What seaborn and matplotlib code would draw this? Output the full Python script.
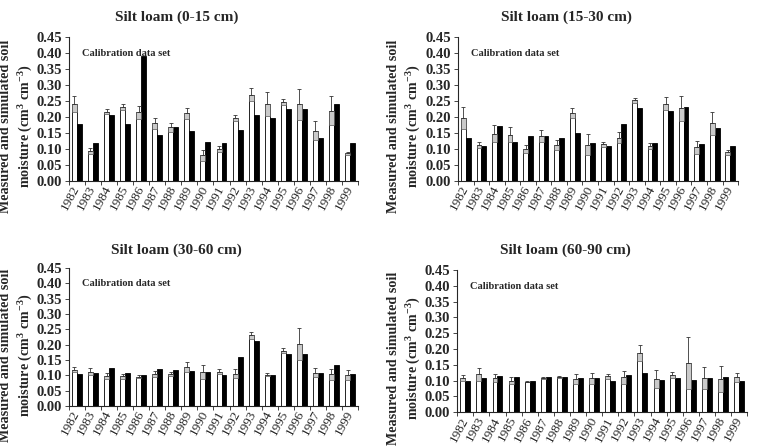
import numpy as np
import pandas as pd
import matplotlib
matplotlib.use('Agg')
import matplotlib.pyplot as plt
import seaborn as sns
from matplotlib.ticker import MultipleLocator, FormatStrFormatter

years = ['1982', '1983', '1984', '1985', '1986', '1987', '1988', '1989', '1990',
         '1991', '1992', '1993', '1994', '1995', '1996', '1997', '1998', '1999']

# silt loam 0-15 cm
meas_0_15 = [0.240, 0.093, 0.217, 0.232, 0.215, 0.180, 0.168, 0.212, 0.080,
             0.100, 0.197, 0.270, 0.240, 0.248, 0.240, 0.157, 0.220, 0.087]
err_0_15 = [0.025, 0.010, 0.008, 0.010, 0.020, 0.018, 0.015, 0.017, 0.018,
            0.010, 0.010, 0.020, 0.037, 0.010, 0.048, 0.030, 0.045, 0.005]
sim_0_15 = [0.178, 0.120, 0.208, 0.177, 0.390, 0.145, 0.170, 0.155, 0.123,
            0.120, 0.160, 0.208, 0.197, 0.225, 0.225, 0.133, 0.240, 0.120]

# silt loam 15-30 cm
meas_15_30 = [0.198, 0.112, 0.148, 0.145, 0.100, 0.140, 0.113, 0.213, 0.113,
              0.115, 0.135, 0.252, 0.110, 0.242, 0.227, 0.105, 0.180, 0.090]
err_15_30 = [0.035, 0.010, 0.027, 0.023, 0.013, 0.018, 0.015, 0.015, 0.033,
             0.008, 0.017, 0.008, 0.010, 0.020, 0.038, 0.020, 0.035, 0.008]
sim_15_30 = [0.135, 0.110, 0.173, 0.123, 0.140, 0.140, 0.135, 0.150, 0.118,
             0.110, 0.178, 0.227, 0.120, 0.218, 0.232, 0.115, 0.167, 0.110]

# silt loam 30-60 cm
meas_30_60 = [0.118, 0.112, 0.097, 0.097, 0.095, 0.103, 0.105, 0.127, 0.110,
              0.112, 0.105, 0.230, 0.102, 0.180, 0.202, 0.108, 0.103, 0.100]
err_30_60 = [0.008, 0.012, 0.010, 0.008, 0.005, 0.010, 0.006, 0.015, 0.022,
             0.008, 0.015, 0.012, 0.005, 0.008, 0.053, 0.015, 0.017, 0.017]
sim_30_60 = [0.105, 0.107, 0.125, 0.107, 0.100, 0.120, 0.117, 0.115, 0.112,
             0.102, 0.158, 0.210, 0.102, 0.168, 0.168, 0.107, 0.133, 0.103]

# silt loam 60-90 cm
meas_60_90 = [0.108, 0.120, 0.108, 0.100, 0.097, 0.108, 0.112, 0.105, 0.107,
              0.113, 0.110, 0.187, 0.105, 0.117, 0.155, 0.108, 0.105, 0.110]
err_60_90 = [0.010, 0.020, 0.012, 0.010, 0.003, 0.003, 0.004, 0.015, 0.017,
             0.008, 0.020, 0.025, 0.028, 0.010, 0.082, 0.036, 0.040, 0.015]
sim_60_90 = [0.100, 0.107, 0.115, 0.110, 0.100, 0.110, 0.112, 0.107, 0.108,
             0.100, 0.117, 0.125, 0.103, 0.108, 0.103, 0.107, 0.110, 0.100]

sns.set_style('ticks')
plt.rcParams['font.family'] = ['Liberation Serif', 'DejaVu Serif']
plt.rcParams['mathtext.fontset'] = 'custom'
plt.rcParams['mathtext.rm'] = 'Liberation Serif:bold'
plt.rcParams['mathtext.default'] = 'rm'

fig = plt.figure(figsize=(7.57, 4.48), dpi=100)


def draw_panel(rect, title, title_xy, ylab_xy, meas, err, sim):
    ax = fig.add_axes(rect)
    df = pd.DataFrame({
        'year': years + years,
        'value': meas + sim,
        'series': ['Measured'] * len(years) + ['Simulated'] * len(years),
    })
    sns.barplot(data=df, x='year', y='value', hue='series',
                palette={'Measured': 'white', 'Simulated': 'black'},
                saturation=1, width=0.62, edgecolor='black', linewidth=0.6,
                legend=False, ax=ax)

    # error bars on the measured bars (grey box below the mean + whisker above)
    bars = ax.patches[:len(years)]
    xs = [p.get_x() + p.get_width() / 2 for p in bars]
    w = bars[0].get_width()
    m = np.array(meas)
    e = np.array(err)
    ax.bar(xs, e, bottom=m - e, width=w, color='#cacaca',
           edgecolor='#555555', linewidth=0.5, zorder=3)
    ax.errorbar(xs, m, yerr=[np.zeros(len(e)), e], fmt='none', ecolor='#333333',
                elinewidth=0.6, capsize=1.6, capthick=0.6, zorder=4)

    ax.set_ylim(0, 0.45)
    ax.set_xlim(-0.5, len(years) - 0.5)
    ax.yaxis.set_major_locator(MultipleLocator(0.05))
    ax.yaxis.set_major_formatter(FormatStrFormatter('%.2f'))
    ax.set_xlabel('')
    ax.set_ylabel('')
    ax.set_xticks(np.arange(-0.5, len(years), 1), minor=True)
    ax.tick_params(axis='x', which='major', length=0, pad=4, labelsize=9.5)
    ax.tick_params(axis='x', which='minor', length=3, width=0.6)
    ax.tick_params(axis='y', length=3, width=0.6, labelsize=10.5, pad=2)
    for lab in ax.get_yticklabels():
        lab.set_fontweight('bold')
    for lab in ax.get_xticklabels():
        lab.set_rotation(62)
        lab.set_ha('right')
        lab.set_va('center')
        lab.set_rotation_mode('anchor')
    for s in ['left', 'bottom']:
        ax.spines[s].set_linewidth(0.8)
    sns.despine(ax=ax)

    ax.text(0.045, 0.885, 'Calibration data set', transform=ax.transAxes,
            fontsize=7.5, fontweight='bold', ha='left', va='center')
    fig.text(title_xy[0], title_xy[1], title, fontsize=11, fontweight='bold',
             ha='center', va='center')
    fig.text(ylab_xy[0], ylab_xy[1],
             'Measured and simulated soil\nmoisture (cm$^{3}$ cm$^{-3}$)',
             rotation=90, fontsize=10.2, fontweight='bold', ha='center',
             va='center', linespacing=1.3)
    return ax


draw_panel([0.091, 0.596, 0.382, 0.321], 'Silt loam (0-15 cm)',
           (177 / 757, 1 - 17 / 448), (17 / 757, 1 - 126 / 448),
           meas_0_15, err_0_15, sim_0_15)
draw_panel([0.605, 0.596, 0.370, 0.321], 'Silt loam (15-30 cm)',
           (566 / 757, 1 - 17 / 448), (405 / 757, 1 - 126 / 448),
           meas_15_30, err_15_30, sim_15_30)
draw_panel([0.091, 0.094, 0.382, 0.308], 'Silt loam (30-60 cm)',
           (176 / 757, 1 - 250 / 448), (17 / 757, 1 - 355 / 448),
           meas_30_60, err_30_60, sim_30_60)
draw_panel([0.604, 0.080, 0.383, 0.317], 'Silt loam (60-90 cm)',
           (565 / 757, 1 - 250 / 448), (405 / 757, 1 - 358 / 448),
           meas_60_90, err_60_90, sim_60_90)

fig.savefig('out.png', dpi=100)
